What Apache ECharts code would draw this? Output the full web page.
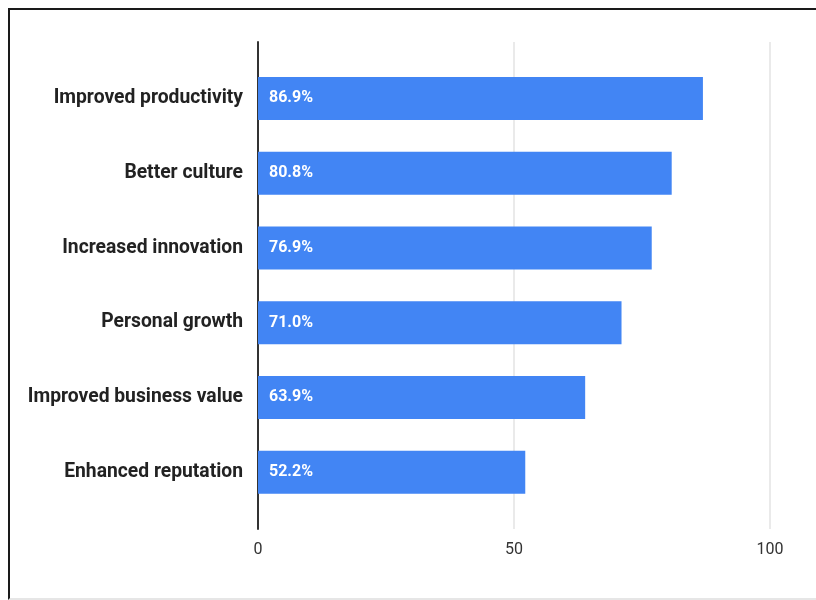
<!DOCTYPE html>
<html>
<head>
<meta charset="utf-8">
<script src="https://cdn.jsdelivr.net/npm/echarts@6/dist/echarts.min.js"></script>
<style>
  html, body { margin: 0; padding: 0; background: #fff; }
  #chart { position: absolute; left: 0; top: 0; width: 816px; height: 600px; }
  #frame {
    position: absolute; left: 8px; top: 8px; width: 820px; height: 588px;
    border-top: 2px solid #1a1a1a; border-left: 2px solid #1a1a1a;
    border-bottom: 2px solid #e6e6e6; pointer-events: none;
  }
</style>
</head>
<body>
<div id="chart"></div>
<div id="frame"></div>
<script>
// Survey results: reported benefits, share of respondents (%)
const categories = [
  'Improved productivity',
  'Better culture',
  'Increased innovation',
  'Personal growth',
  'Improved business value',
  'Enhanced reputation'
];
const values = [86.9, 80.8, 76.9, 71.0, 63.9, 52.2];
const xTicks = [0, 50, 100];

const chart = echarts.init(document.getElementById('chart'), null, { renderer: 'canvas' });

chart.setOption({
  animation: false,
  backgroundColor: '#ffffff',
  grid: [
    // bars
    { left: 258, right: 46, top: 61, bottom: 90.5 },
    // frame for gridlines, baseline and tick labels (extends past the bars)
    { left: 258, right: 46, top: 42, bottom: 71 }
  ],
  xAxis: [
    {
      gridIndex: 0, type: 'value', min: xTicks[0], max: xTicks[xTicks.length - 1],
      show: false
    },
    {
      gridIndex: 1, type: 'value', min: xTicks[0], max: xTicks[xTicks.length - 1],
      interval: xTicks[1] - xTicks[0],
      axisLine: { show: false },
      axisTick: { show: false },
      axisLabel: {
        color: '#333', fontSize: 16, margin: 13,
        fontFamily: 'Roboto, sans-serif'
      },
      splitLine: { show: true, lineStyle: { color: '#e3e3e3', width: 1.5 } }
    }
  ],
  yAxis: [
    {
      gridIndex: 0, type: 'category', data: categories, inverse: true,
      axisLine: { show: false },
      axisTick: { show: false },
      axisLabel: {
        color: '#222', fontSize: 19.3, fontWeight: 'bold', margin: 15,
        fontFamily: 'Roboto, sans-serif'
      }
    },
    {
      gridIndex: 1, type: 'value', min: 0, max: 1,
      axisLine: { show: true, onZero: false, lineStyle: { color: '#333', width: 2 } },
      axisTick: { show: false },
      axisLabel: { show: false },
      splitLine: { show: false }
    }
  ],
  series: [
    {
      type: 'bar',
      xAxisIndex: 0, yAxisIndex: 0,
      data: values,
      barWidth: 43,
      itemStyle: { color: '#4285F4' },
      z: 3,
      label: {
        show: true,
        position: 'insideLeft',
        distance: 11,
        color: '#ffffff',
        fontSize: 16,
        fontWeight: 'bold',
        fontFamily: 'Roboto, sans-serif',
        formatter: p => p.value.toFixed(1) + '%'
      }
    }
  ]
});
</script>
</body>
</html>
